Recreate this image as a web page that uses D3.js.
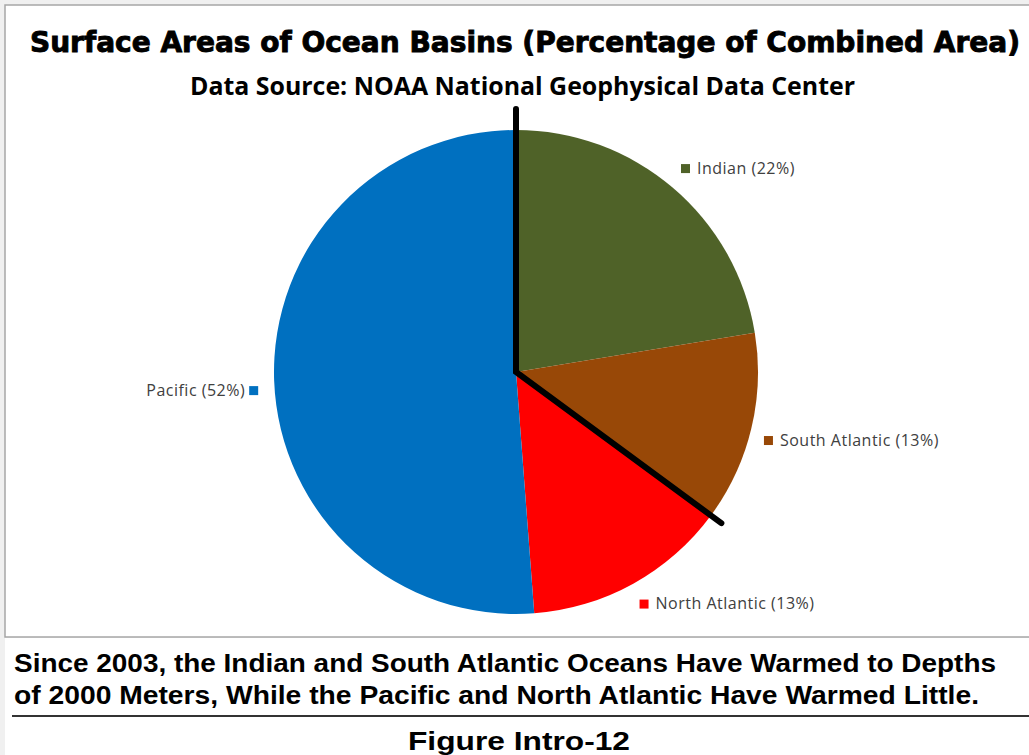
<!DOCTYPE html>
<html>
<head>
<meta charset="utf-8">
<script src="https://cdn.jsdelivr.net/npm/d3@7"></script>
<style>
    body { margin: 0; background: #f0f0f0; }
    svg { display: block; }
</style>
</head>
<body>
<div id="chart"></div>
<script>
// Ocean basins, clockwise from 12 o'clock
const basins = ["Indian", "South Atlantic", "North Atlantic", "Pacific"];
// slice sizes as drawn
const shares = [22.4, 12.7, 13.7, 51.2];
// percentages as printed on the labels
const labelPct = [22, 13, 13, 52];
const colors = ["#4F6228", "#984807", "#FF0000", "#0070C0"];

const title = "Surface Areas of Ocean Basins (Percentage of Combined Area)";
const subtitle = "Data Source: NOAA National Geophysical Data Center";
const captionLines = [
    "Since 2003, the Indian and South Atlantic Oceans Have Warmed to Depths",
    "of 2000 Meters, While the Pacific and North Atlantic Have Warmed Little."
];
const figureLabel = "Figure Intro-12";

const width = 1029, height = 755;
const cx = 516, cy = 372, radius = 242;

const svg = d3.select("#chart").append("svg")
    .attr("width", width)
    .attr("height", height);

// page background and the chart frame
svg.append("rect").attr("x", 0).attr("y", 0).attr("width", width).attr("height", height).attr("fill", "#f0f0f0");
svg.append("rect").attr("x", 5).attr("y", 5).attr("width", width).attr("height", 632)
    .attr("fill", "#fff").attr("stroke", "#a6a6a6").attr("stroke-width", 1.5);
svg.append("rect").attr("x", 5).attr("y", 638).attr("width", width).attr("height", height)
    .attr("fill", "#fff");

// titles
svg.append("text")
    .attr("x", 30).attr("y", 52)
    .attr("textLength", 990).attr("lengthAdjust", "spacingAndGlyphs")
    .style("font-family", "'DejaVu Sans', sans-serif")
    .style("font-weight", "bold").style("font-size", "28px")
    .attr("stroke", "#000").attr("stroke-width", 0.9)
    .text(title);

svg.append("text")
    .attr("x", 190).attr("y", 95)
    .attr("textLength", 665).attr("lengthAdjust", "spacingAndGlyphs")
    .style("font-family", "'Open Sans', sans-serif")
    .style("font-weight", "bold").style("font-size", "25px")
    .text(subtitle);

// pie
const data = basins.map((b, i) => ({ name: b, value: shares[i], pct: labelPct[i], color: colors[i] }));
const pie = d3.pie().sort(null).value(d => d.value);
const arcs = pie(data);
const arc = d3.arc().innerRadius(0).outerRadius(radius);

const g = svg.append("g").attr("transform", `translate(${cx},${cy})`);

g.selectAll("path.slice")
    .data(arcs)
    .enter().append("path")
    .attr("class", "slice")
    .attr("d", arc)
    .attr("fill", d => d.data.color);

// black divider: top of pie -> centre -> end of South Atlantic slice
const polar = (a, r) => [r * Math.sin(a), -r * Math.cos(a)];
const splitAngle = arcs[1].endAngle;
const lineTop = polar(arcs[0].startAngle, radius + 21);
const lineEnd = polar(splitAngle, radius + 13);
g.append("path")
    .attr("d", d3.line()([lineTop, [0, 0], lineEnd]))
    .attr("fill", "none")
    .attr("stroke", "#000")
    .attr("stroke-width", 6)
    .attr("stroke-linecap", "round")
    .attr("stroke-linejoin", "miter");

// outside-end data labels with a legend key square;
// the label box's nearest corner sits on the mid-angle point just outside the pie
const labelR = radius + 13;
const keySize = 9, gap = 7, boxH = 18;
arcs.forEach(d => {
    const mid = (d.startAngle + d.endAngle) / 2;
    const [px, py] = polar(mid, labelR);
    const lg = g.append("g");
    const txt = lg.append("text")
        .style("font-family", "'Open Sans', sans-serif")
        .style("font-size", "16px")
        .style("letter-spacing", "0.5px")
        .attr("fill", "#404040")
        .text(`${d.data.name} (${d.data.pct}%)`);
    const tw = txt.node().getComputedTextLength();
    const w = tw + keySize + gap;
    const right = px >= 0;
    const left = right ? px : px - w;
    const topY = py < 0 ? py - boxH : py;
    // key square before text on the right side, after text on the left
    const keyX = right ? left : left + tw + 4;
    const textX = right ? left + keySize + gap : left;
    lg.append("rect")
        .attr("x", keyX).attr("y", topY + boxH / 2 - keySize / 2)
        .attr("width", keySize).attr("height", keySize)
        .attr("fill", d.data.color);
    txt.attr("x", textX).attr("y", topY + 14);
});

// caption under the chart
svg.selectAll("text.caption")
    .data(captionLines)
    .enter().append("text")
    .attr("class", "caption")
    .attr("x", 14)
    .attr("y", (d, i) => 672 + i * 32)
    .attr("textLength", (d, i) => i === 0 ? 982 : 965)
    .attr("lengthAdjust", "spacingAndGlyphs")
    .style("font-family", "'Liberation Sans', Arial, sans-serif")
    .style("font-weight", "bold").style("font-size", "25px")
    .text(d => d);

svg.append("line")
    .attr("x1", 12).attr("x2", width).attr("y1", 716).attr("y2", 716)
    .attr("stroke", "#333").attr("stroke-width", 2);

svg.append("text")
    .attr("x", 519).attr("y", 750)
    .attr("text-anchor", "middle")
    .attr("textLength", 222).attr("lengthAdjust", "spacingAndGlyphs")
    .style("font-family", "'Liberation Sans', Arial, sans-serif")
    .style("font-weight", "bold").style("font-size", "26px")
    .text(figureLabel);
</script>
</body>
</html>
